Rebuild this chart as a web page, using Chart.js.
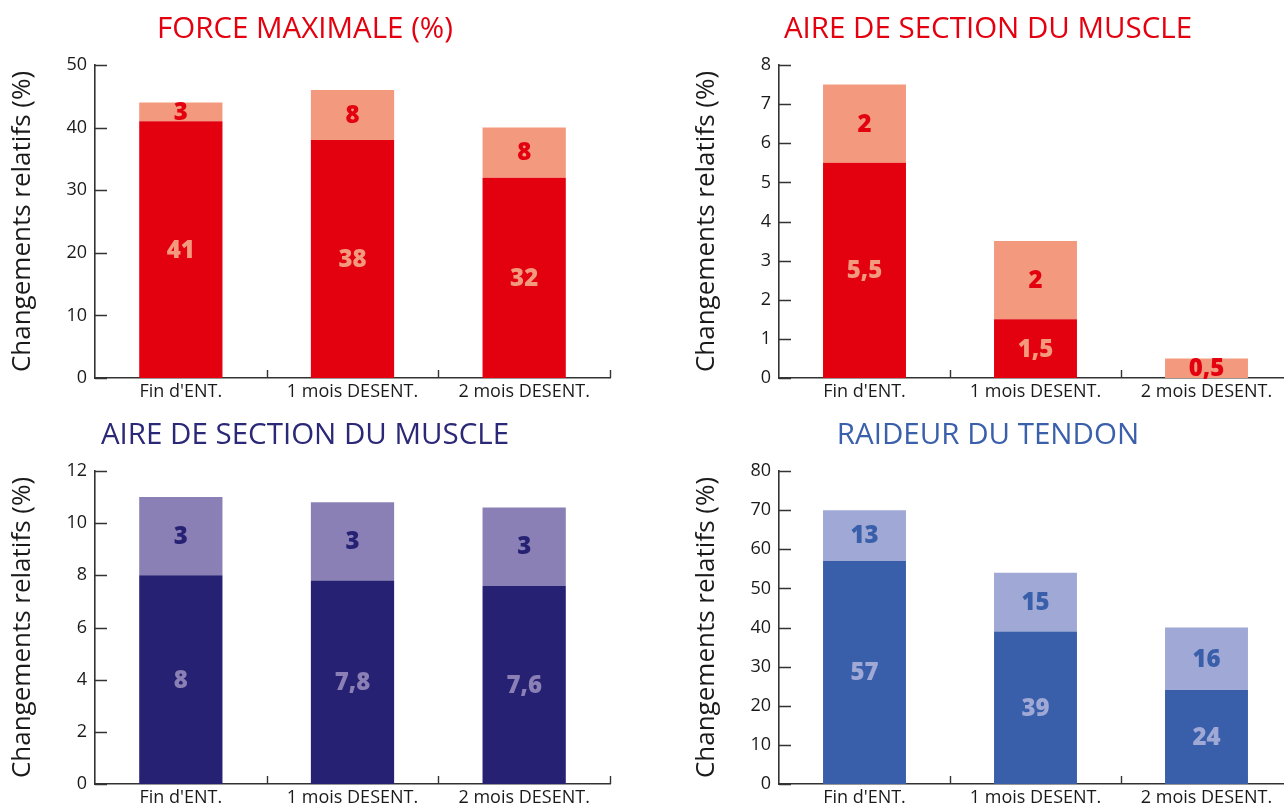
<!DOCTYPE html>
<html lang="fr">
<head>
  <meta charset="UTF-8">
  <title>Changements relatifs</title>
  <style>
    html, body { margin: 0; padding: 0; background: #fff; overflow: hidden; width: 1284px; height: 809px; }
    .box { position: absolute; }
    #c1 { left: 0; top: 0; width: 620px; height: 405px; }
    #c2 { left: 660px; top: 0; width: 664px; height: 405px; }
    #c3 { left: 0; top: 406px; width: 620px; height: 403px; }
    #c4 { left: 660px; top: 406px; width: 664px; height: 403px; }
  </style>
</head>
<body>
  <div class="box" id="c1"><canvas id="chart1"></canvas></div>
  <div class="box" id="c2"><canvas id="chart2"></canvas></div>
  <div class="box" id="c3"><canvas id="chart3"></canvas></div>
  <div class="box" id="c4"><canvas id="chart4"></canvas></div>
  <script src="https://cdn.jsdelivr.net/npm/chart.js"></script>
  <script>
    const categories = ["Fin d'ENT.", '1 mois DESENT.', '2 mois DESENT.']

    const forceBase = [41, 38, 32]
    const forceExtra = [3, 8, 8]

    const sectionRedBase = [5.5, 1.5, 0]
    const sectionRedExtra = [2, 2, 0.5]

    const sectionBlueBase = [8, 7.8, 7.6]
    const sectionBlueExtra = [3, 3, 3]

    const tendonBase = [57, 39, 24]
    const tendonExtra = [13, 15, 16]

    const FONT = "'Open Sans', 'Noto Sans', sans-serif"
    const AXIS = '#333'

    // valeurs au centre de chaque segment
    const barLabels = {
      id: 'barLabels',
      afterDatasetsDraw(chart) {
        const ctx = chart.ctx
        ctx.save()
        ctx.font = `800 24px ${FONT}`
        ctx.textAlign = 'center'
        ctx.textBaseline = 'middle'
        chart.data.datasets.forEach((ds, i) => {
          const meta = chart.getDatasetMeta(i)
          meta.data.forEach((bar, j) => {
            const v = ds.data[j]
            if (!v) return
            ctx.fillStyle = ds.labelColor
            ctx.fillText(String(v).replace('.', ','), bar.x, (bar.y + bar.base) / 2 + 1)
          })
        })
        ctx.restore()
      }
    }

    // petites graduations tournées vers l'intérieur
    const innerTicks = {
      id: 'innerTicks',
      afterDraw(chart) {
        const ctx = chart.ctx
        const area = chart.chartArea
        const x = chart.scales.x
        const y = chart.scales.y
        ctx.save()
        ctx.strokeStyle = AXIS
        ctx.lineWidth = 1.4
        ctx.beginPath()
        y.ticks.forEach((t, i) => {
          const py = Math.round(y.getPixelForTick(i)) + 0.5
          ctx.moveTo(area.left, py)
          ctx.lineTo(area.left + 12, py)
        })
        for (let i = 0; i < categories.length; i++) {
          const px = Math.round(x.getPixelForValue(i + 0.5)) + 0.5
          ctx.moveTo(px, area.bottom)
          ctx.lineTo(px, area.bottom - 8)
        }
        ctx.stroke()
        ctx.restore()
      }
    }

    function makeChart(id, cfg) {
      return new Chart(document.getElementById(id), {
        type: 'bar',
        data: {
          labels: categories,
          datasets: [
            { data: cfg.base, backgroundColor: cfg.dark, labelColor: cfg.light },
            { data: cfg.extra, backgroundColor: cfg.light, labelColor: cfg.dark }
          ]
        },
        options: {
          responsive: true,
          maintainAspectRatio: false,
          animation: false,
          devicePixelRatio: 1,
          datasets: { bar: { categoryPercentage: 1, barPercentage: 0.485 } },
          layout: { padding: { left: cfg.padLeft, right: cfg.padRight, top: 0, bottom: 0 } },
          plugins: {
            legend: { display: false },
            tooltip: { enabled: false },
            title: {
              display: true,
              text: cfg.title,
              color: cfg.titleColor,
              font: { family: FONT, size: 29.5, weight: 'normal', lineHeight: 1.2 },
              padding: { top: 12, bottom: 17.6 }
            }
          },
          scales: {
            x: {
              stacked: true,
              grid: { display: false, drawTicks: false },
              border: { display: true, color: AXIS, width: 1.6 },
              ticks: { color: '#1a1a1a', font: { family: FONT, size: 18 }, padding: 3, maxRotation: 0 },
              afterFit(scale) { scale.height = cfg.xHeight }
            },
            y: {
              stacked: true,
              min: 0,
              max: cfg.max,
              grid: { display: false, drawTicks: false },
              border: { display: true, color: AXIS, width: 1.6 },
              ticks: { stepSize: cfg.step, color: '#1a1a1a', font: { family: FONT, size: 18 }, padding: 8 },
              title: {
                display: true,
                text: 'Changements relatifs (%)',
                color: '#1a1a1a',
                font: { family: FONT, size: 26, lineHeight: 1.2 },
                padding: { top: 7, bottom: 0 }
              },
              afterFit(scale) { scale.width = 95 }
            }
          }
        },
        plugins: [barLabels, innerTicks]
      })
    }

    makeChart('chart1', {
      title: 'FORCE MAXIMALE (%)', titleColor: '#e3000f',
      base: forceBase, extra: forceExtra, dark: '#e3000f', light: '#f39a7e',
      max: 50, step: 10, padLeft: 0, padRight: 10, xHeight: 27
    })
    makeChart('chart2', {
      title: 'AIRE DE SECTION DU MUSCLE', titleColor: '#e3000f',
      base: sectionRedBase, extra: sectionRedExtra, dark: '#e3000f', light: '#f39a7e',
      max: 8, step: 1, padLeft: 24, padRight: 32, xHeight: 27
    })
    makeChart('chart3', {
      title: 'AIRE DE SECTION DU MUSCLE', titleColor: '#2b2878',
      base: sectionBlueBase, extra: sectionBlueExtra, dark: '#262173', light: '#8a80b6',
      max: 12, step: 2, padLeft: 0, padRight: 10, xHeight: 25
    })
    makeChart('chart4', {
      title: 'RAIDEUR DU TENDON', titleColor: '#3a5fab',
      base: tendonBase, extra: tendonExtra, dark: '#3a5faa', light: '#a0a8d6',
      max: 80, step: 10, padLeft: 24, padRight: 32, xHeight: 25
    })
  </script>
</body>
</html>
